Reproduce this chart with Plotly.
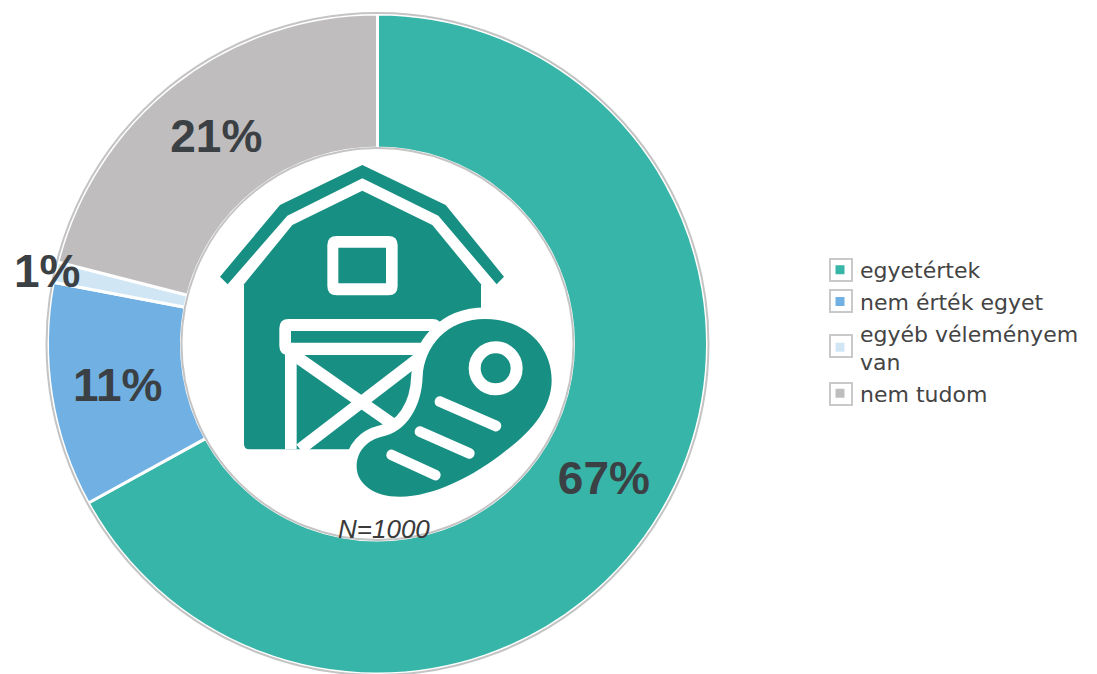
import math
import plotly.graph_objects as go

W, H = 1097, 674
categories = ["egyetértek", "nem érték egyet", "egyéb véleményem<br>van", "nem tudom"]
values = [67, 11, 1, 21]
colors = ["#37b5a8", "#70b0e3", "#d0e6f4", "#bfbdbd"]
sample_note = "N=1000"
ICON = "#178f82"
TEXT = "#3b4044"


def pt(zx, zy):
    return f"{(200 + zx / 3) / W:.5f},{1 - (150 + zy / 3) / H:.5f}"


def path(cmds):
    out = []
    for c in cmds:
        if isinstance(c, str):
            out.append(c)
        else:
            out.append(pt(*c))
    return " ".join(out)


def poly(points, fill):
    d = "M " + " L ".join(pt(*p) for p in points) + " Z"
    return dict(type="path", xref="paper", yref="paper", path=d, fillcolor=fill,
                line=dict(width=0), layer="above")


def rrect(x0, y0, x1, y1, r, fill):
    d = path(["M", (x0 + r, y0), "L", (x1 - r, y0), "Q", (x1, y0), (x1, y0 + r),
              "L", (x1, y1 - r), "Q", (x1, y1), (x1 - r, y1),
              "L", (x0 + r, y1), "Q", (x0, y1), (x0, y1 - r),
              "L", (x0, y0 + r), "Q", (x0, y0), (x0 + r, y0), "Z"])
    return dict(type="path", xref="paper", yref="paper", path=d, fillcolor=fill,
                line=dict(width=0), layer="above")


def capsule(x0, y0, x1, y1, w, fill):
    L = math.hypot(x1 - x0, y1 - y0)
    ux, uy = (x1 - x0) / L, (y1 - y0) / L
    nx, ny = -uy * w / 2, ux * w / 2
    ex, ey = ux * w * 0.66, uy * w * 0.66
    d = path(["M", (x0 + nx, y0 + ny), "L", (x1 + nx, y1 + ny),
              "C", (x1 + nx + ex, y1 + ny + ey), (x1 - nx + ex, y1 - ny + ey), (x1 - nx, y1 - ny),
              "L", (x0 - nx, y0 - ny),
              "C", (x0 - nx - ex, y0 - ny - ey), (x0 + nx - ex, y0 + ny - ey), (x0 + nx, y0 + ny), "Z"])
    return dict(type="path", xref="paper", yref="paper", path=d, fillcolor=fill,
                line=dict(width=0), layer="above")


def circle_px(cx, cy, r, fill=None, line=None, lw=0):
    return dict(type="circle", xref="paper", yref="paper",
                x0=(cx - r) / W, x1=(cx + r) / W, y0=1 - (cy + r) / H, y1=1 - (cy - r) / H,
                fillcolor=fill or "rgba(0,0,0,0)", line=dict(color=line or "rgba(0,0,0,0)", width=lw),
                layer="above")


def bar(x0, y0, x1, y1, w, fill="white"):
    L = math.hypot(x1 - x0, y1 - y0)
    nx, ny = -(y1 - y0) / L * w / 2, (x1 - x0) / L * w / 2
    return poly([(x0 + nx, y0 + ny), (x1 + nx, y1 + ny), (x1 - nx, y1 - ny), (x0 - nx, y0 - ny)], fill)


def frame(cx, cy, s=11):
    return dict(type="rect", xref="paper", yref="paper", x0=(cx - s) / W, x1=(cx + s) / W,
                y0=1 - (cy + s) / H, y1=1 - (cy - s) / H, fillcolor="rgba(0,0,0,0)",
                line=dict(color="#c9c9c9", width=2), layer="above")


CX, CY, R, RI = 377.5, 344, 330, 196

meat = path(["M", (855, 507), "C", (975, 507), (1055, 590), (1055, 690),
             "C", (1055, 770), (1000, 840), (920, 900),
             "C", (820, 980), (700, 1040), (600, 1040),
             "C", (520, 1040), (470, 1000), (470, 950),
             "C", (470, 900), (505, 870), (545, 860),
             "C", (620, 845), (665, 770), (668, 680),
             "C", (672, 590), (740, 507), (855, 507), "Z"])

body = path(["M", (132, 403), "L", (277, 225), "L", (487, 122), "L", (697, 225), "L", (843, 403),
             "L", (843, 898), "L", (148, 898), "Q", (132, 898), (132, 882), "Z"])

shapes = [
    circle_px(CX, CY, R + 1, line="#c4c4c4", lw=2),
    circle_px(CX, CY, RI, line="#c4c4c4", lw=2),
    poly([(60, 380), (240, 165), (487, 45), (737, 165), (912, 380), (890, 403),
          (715, 197), (487, 85), (262, 197), (83, 403)], ICON),
    dict(type="path", xref="paper", yref="paper", path=body, fillcolor=ICON, line=dict(width=0), layer="above"),
    rrect(382, 258, 593, 436, 28, "white"),
    rrect(415, 293, 558, 400, 1, ICON),
    rrect(238, 507, 725, 615, 28, "white"),
    poly([(273, 543), (695, 543), (668, 578), (273, 578)], ICON),
    poly([(255, 600), (290, 600), (290, 898), (255, 898)], "white"),
    bar(275, 610, 575, 820, 36),
    bar(300, 898, 665, 618, 36),
    dict(type="path", xref="paper", yref="paper", path=meat, fillcolor=ICON,
         line=dict(color="white", width=23), layer="above"),
    dict(type="path", xref="paper", yref="paper", path=meat, fillcolor=ICON,
         line=dict(width=0), layer="above"),
    circle_px(200 + 887 / 3, 150 + 655 / 3, 21, fill=ICON, line="white", lw=12),
    capsule(720, 755, 888, 828, 32, "white"),
    capsule(660, 845, 808, 910, 32, "white"),
    capsule(575, 915, 706, 975, 32, "white"),
    frame(841, 270), frame(841, 301), frame(841, 346), frame(841, 394),
]

fig = go.Figure(go.Pie(
    labels=categories,
    values=values,
    sort=False,
    direction="clockwise",
    rotation=0,
    hole=RI / R,
    marker=dict(colors=colors, line=dict(color="white", width=3)),
    texttemplate=[f"{v}%" if v > 1 else "" for v in values],
    textposition="inside",
    insidetextorientation="horizontal",
    textfont=dict(family="Liberation Sans", size=46, color=TEXT, weight="bold"),
    domain=dict(x=[(CX - R) / W, (CX + R) / W], y=[1 - (CY + R) / H, 1 - (CY - R) / H]),
))

fig.update_layout(
    width=W, height=H, autosize=False,
    margin=dict(l=0, r=0, t=0, b=0),
    paper_bgcolor="white",
    shapes=shapes,
    legend=dict(
        x=820 / W, y=1 - 249 / H, xanchor="left", yanchor="top",
        font=dict(family="DejaVu Sans", size=22, color="#444444"),
        bgcolor="rgba(0,0,0,0)", tracegroupgap=0, itemwidth=30,
    ),
    annotations=[
        dict(text=f"{values[2]}%", xref="paper", yref="paper", x=47 / W, y=1 - 271 / H,
             xanchor="center", yanchor="middle", showarrow=False,
             font=dict(family="Liberation Sans", size=46, color=TEXT, weight="bold")),
        dict(text=sample_note, xref="paper", yref="paper", x=384 / W, y=1 - 529 / H,
             xanchor="center", yanchor="middle", showarrow=False,
             font=dict(family="Liberation Sans", size=26, color="#3a3a3a", style="italic")),
    ],
)

fig.write_html("out.html", config=dict(displayModeBar=False),
               post_script="document.body.style.margin='0';")
